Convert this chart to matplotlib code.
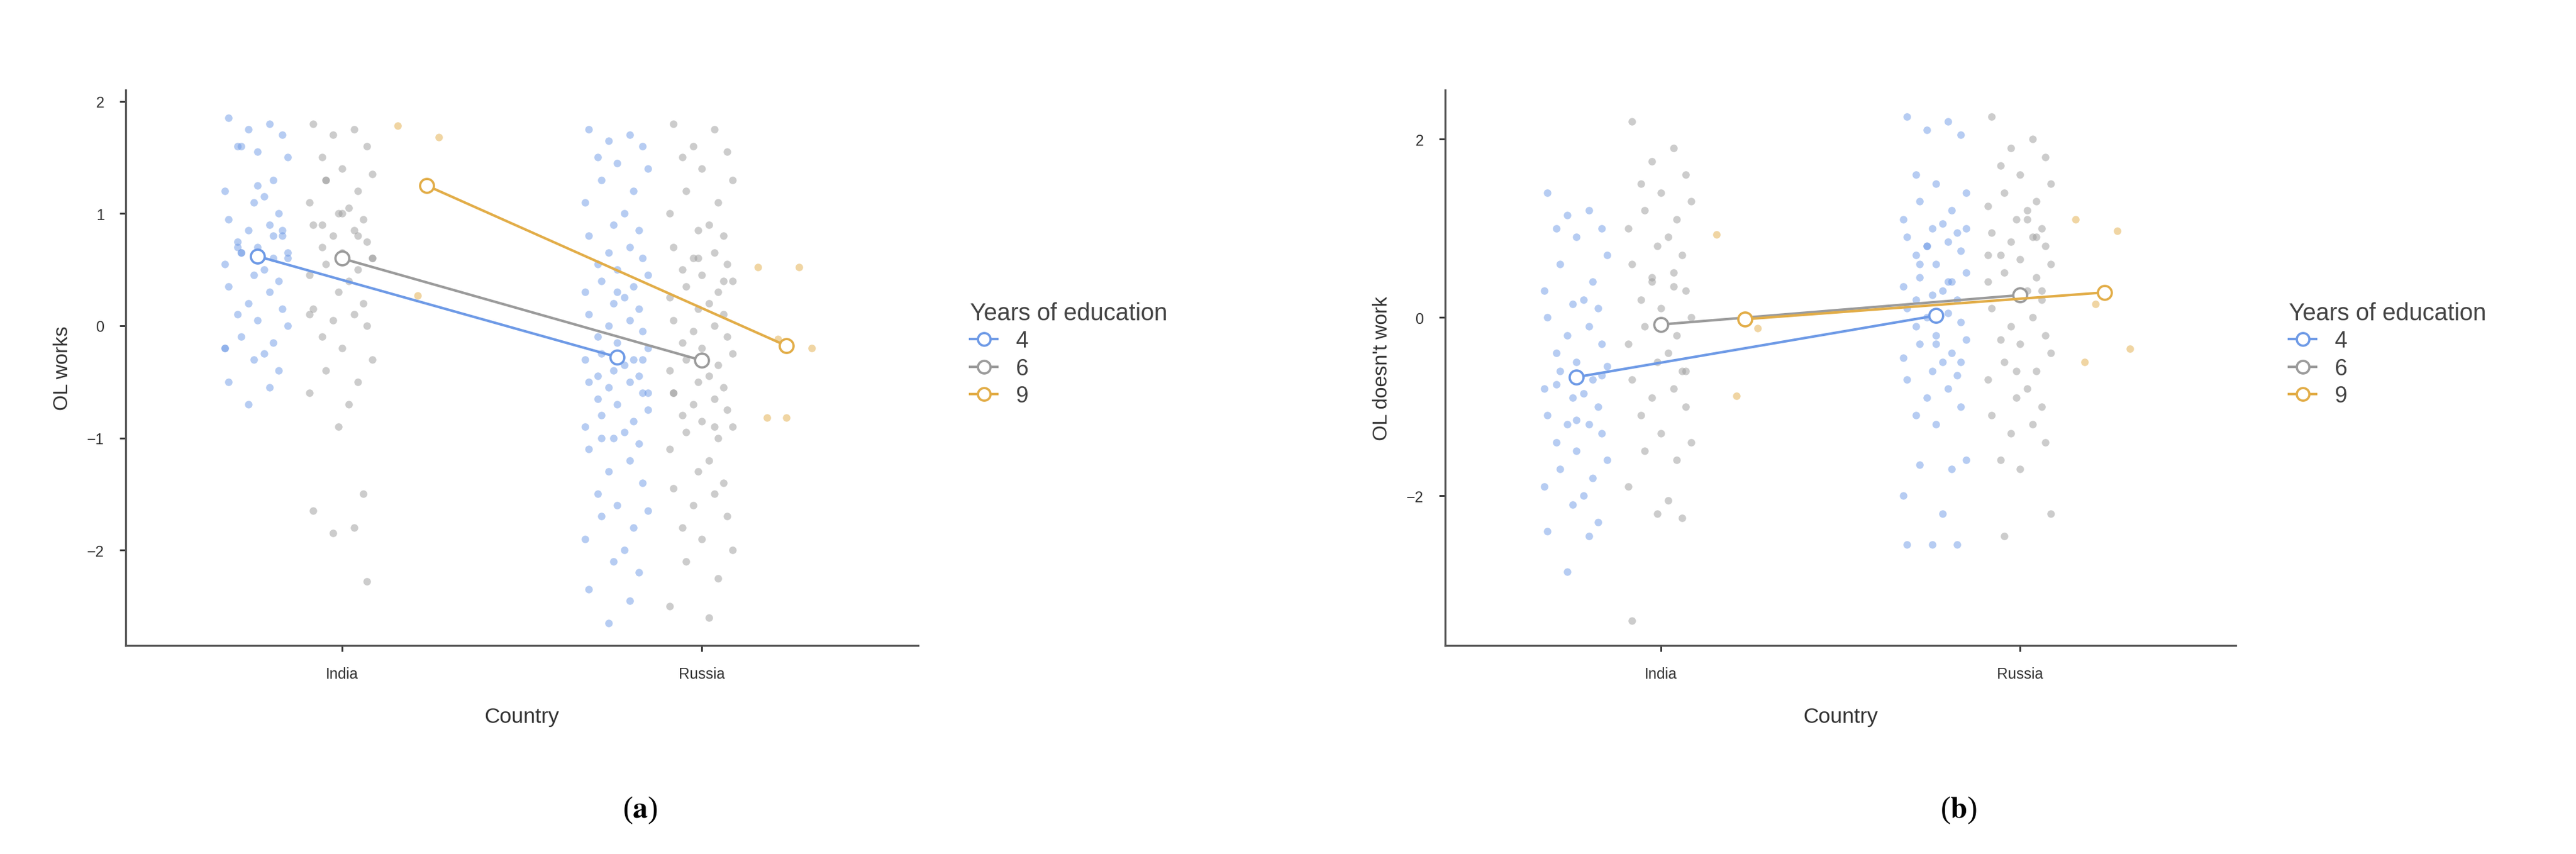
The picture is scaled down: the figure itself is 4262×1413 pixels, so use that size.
import numpy as np
import matplotlib
matplotlib.use("Agg")
import matplotlib.pyplot as plt
from matplotlib.lines import Line2D

plt.rcParams['font.family'] = ['Liberation Sans', 'DejaVu Sans']
plt.rcParams['mathtext.fontset'] = 'stix'

countries = ["India", "Russia"]
groups = ["4", "6", "9"]

# Panel (a): OL works
a_means = {"4": [0.62, -0.28], "6": [0.60, -0.31], "9": [1.25, -0.18]}
a_india_4 = [1.85,1.8,1.75,1.7,1.6,1.55,1.5,1.6,1.3,1.2,1.15,1.1,1.0,0.95,0.9,0.85,0.8,0.75,0.7,0.65,0.65,0.6,0.55,0.5,0.45,0.4,0.35,0.3,0.2,0.15,0.1,0.05,0.0,-0.1,-0.15,-0.2,-0.25,-0.3,-0.4,-0.5,-0.55,-0.7,0.85,0.7,1.25,0.6,0.65,0.8,-0.2]
a_india_6 = [1.8,1.75,1.7,1.6,1.5,1.4,1.35,1.3,1.2,1.1,1.05,1.0,0.95,0.9,0.85,0.8,0.75,0.7,0.65,0.6,0.55,0.5,0.45,0.4,0.3,0.2,0.15,0.1,0.05,0.0,-0.1,-0.2,-0.3,-0.4,-0.5,-0.6,-0.7,-0.9,-1.5,-1.65,-1.8,-1.85,-2.28,0.9,1.0,0.6,1.3,0.8,0.1]
a_india_9 = [1.78, 1.68, 0.27]
a_russia_4 = [1.75,1.7,1.65,1.6,1.5,1.45,1.4,1.3,1.2,1.1,1.0,0.9,0.85,0.8,0.7,0.65,0.6,0.55,0.5,0.45,0.4,0.35,0.3,0.25,0.2,0.15,0.1,0.05,0.0,-0.05,-0.1,-0.15,-0.2,-0.25,-0.3,-0.3,-0.35,-0.4,-0.45,-0.5,-0.5,-0.55,-0.6,-0.65,-0.7,-0.75,-0.8,-0.85,-0.9,-0.95,-1.0,-1.05,-1.1,-1.2,-1.3,-1.4,-1.5,-1.6,-1.65,-1.7,-1.8,-1.9,-2.0,-2.1,-2.2,-2.35,-2.45,-2.65,-0.3,-0.45,0.3,-0.6,-1.0]
a_russia_6 = [1.8,1.75,1.6,1.55,1.5,1.4,1.3,1.2,1.1,1.0,0.9,0.85,0.8,0.7,0.65,0.6,0.55,0.5,0.45,0.4,0.35,0.3,0.25,0.2,0.15,0.1,0.05,0.0,-0.05,-0.1,-0.15,-0.2,-0.25,-0.3,-0.35,-0.4,-0.45,-0.5,-0.55,-0.6,-0.65,-0.7,-0.75,-0.8,-0.85,-0.9,-0.95,-1.0,-1.1,-1.2,-1.3,-1.4,-1.45,-1.5,-1.6,-1.7,-1.8,-1.9,-2.0,-2.1,-2.25,-2.5,-2.6,0.6,0.4,-0.6,-0.9]
a_russia_9 = [0.52, 0.52, -0.12, -0.2, -0.82, -0.82]

# Panel (b): OL doesn't work
b_means = {"4": [-0.67, 0.02], "6": [-0.08, 0.25], "9": [-0.02, 0.28]}
b_india_4 = [1.4,1.2,1.15,1.0,1.0,0.9,0.7,0.6,0.4,0.3,0.2,0.15,0.1,0.0,-0.1,-0.2,-0.3,-0.4,-0.5,-0.55,-0.6,-0.7,-0.8,-0.85,-0.9,-1.0,-1.1,-1.2,-1.2,-1.3,-1.4,-1.5,-1.6,-1.7,-1.8,-1.9,-2.0,-2.1,-2.3,-2.4,-2.45,-2.85,-0.65,-0.75,-1.15]
b_india_6 = [2.2,1.9,1.75,1.6,1.5,1.4,1.3,1.2,1.1,1.0,0.9,0.8,0.7,0.6,0.5,0.4,0.3,0.2,0.1,0.0,-0.1,-0.2,-0.3,-0.4,-0.5,-0.6,-0.7,-0.8,-0.9,-1.0,-1.1,-1.3,-1.4,-1.5,-1.6,-1.9,-2.05,-2.2,-2.25,-3.4,0.35,0.45,-0.6]
b_india_9 = [0.93, -0.12, -0.88]
b_russia_4 = [2.25,2.2,2.1,2.05,1.6,1.5,1.4,1.3,1.2,1.1,1.05,1.0,0.95,0.9,0.85,0.8,0.75,0.7,0.6,0.5,0.45,0.4,0.35,0.3,0.25,0.2,0.1,0.05,0.0,-0.05,-0.1,-0.2,-0.25,-0.3,-0.4,-0.45,-0.5,-0.6,-0.65,-0.7,-0.8,-0.9,-1.0,-1.1,-1.2,-1.6,-1.65,-1.7,-2.0,-2.2,-2.55,-2.55,-2.55,0.4,0.8,-0.5,0.2,-0.3,1.0,0.6]
b_russia_6 = [2.25,2.0,1.9,1.8,1.7,1.6,1.5,1.4,1.3,1.25,1.2,1.1,1.0,0.95,0.9,0.85,0.8,0.7,0.65,0.6,0.5,0.45,0.4,0.3,0.25,0.2,0.1,0.0,-0.1,-0.2,-0.25,-0.3,-0.4,-0.5,-0.6,-0.7,-0.8,-0.9,-1.0,-1.1,-1.2,-1.3,-1.4,-1.6,-1.7,-2.2,-2.45,0.9,0.7,1.1,-0.6,0.3]
b_russia_9 = [1.1, 0.97, 0.15, -0.35, -0.5]

JITTER = [-0.08, 0.035, -0.025, 0.07, -0.055, 0.0, 0.085, -0.045, 0.045, -0.09, 0.02, -0.01, 0.06]

colors = {"4": "#6e9ae6", "6": "#9b9b9b", "9": "#e2ad48"}
dodge = {"4": -0.235, "6": 0.0, "9": 0.235}

W, H = 4262, 1414
fig = plt.figure(figsize=(W/300, H/300), dpi=300)

def draw(ax_rect, raw, means, ylabel, ylim, yticks, yticklabels):
    ax = fig.add_axes(ax_rect)
    for ci, c in enumerate(countries):
        for g in groups:
            ys = raw[(c, g)]
            xs = [ci + 1 + dodge[g] + JITTER[i % len(JITTER)] for i in range(len(ys))]
            ax.scatter(xs, ys, s=9, color=colors[g], alpha=0.5, linewidths=0, zorder=2)
    for g in groups:
        xs = [i + 1 + dodge[g] for i in range(2)]
        ax.plot(xs, means[g], color=colors[g], lw=1.0, zorder=3,
                marker='o', ms=5.5, mfc='white', mec=colors[g], mew=0.9)
    ax.set_xlim(0.4, 2.6)
    ax.set_ylim(*ylim)
    ax.set_xticks([1, 2])
    ax.set_xticklabels(countries)
    ax.set_yticks(yticks)
    ax.set_yticklabels(yticklabels)
    for s in ['top', 'right']:
        ax.spines[s].set_visible(False)
    for s in ['left', 'bottom']:
        ax.spines[s].set_color('#555555')
        ax.spines[s].set_linewidth(0.8)
    ax.tick_params(labelsize=6, colors='#333333', length=2.5, width=0.7, pad=6)
    ax.set_xlabel("Country", fontsize=8.5, color='#333333', labelpad=10)
    ax.set_ylabel(ylabel, fontsize=8, color='#333333', labelpad=6)
    return ax

raw_a = {("India","4"): a_india_4, ("India","6"): a_india_6, ("India","9"): a_india_9,
         ("Russia","4"): a_russia_4, ("Russia","6"): a_russia_6, ("Russia","9"): a_russia_9}
raw_b = {("India","4"): b_india_4, ("India","6"): b_india_6, ("India","9"): b_india_9,
         ("Russia","4"): b_russia_4, ("Russia","6"): b_russia_6, ("Russia","9"): b_russia_9}

draw([208/W, 1-1069/H, (1519-208)/W, (1069-150)/H], raw_a, a_means, "OL works",
     (-2.85, 2.1), [-2, -1, 0, 1, 2], ["\u22122", "\u22121", "0", "1", "2"])
draw([2391/W, 1-1069/H, (3699-2391)/W, (1069-150)/H], raw_b, b_means, "OL doesn't work",
     (-3.68, 2.55), [-2, 0, 2], ["\u22122", "0", "2"])

handles = [Line2D([0], [0], color=colors[g], lw=1.0, marker='o', ms=5, mfc='white',
                  mec=colors[g], mew=0.9) for g in groups]
for lx in [1590/W, 3772/W]:
    leg = fig.legend(handles, groups, title="Years of education", loc='upper left',
               bbox_to_anchor=(lx, 1-485/H), frameon=False, fontsize=9,
               title_fontsize=9.5, handlelength=1.2, labelcolor='#444444',
               alignment='left', borderaxespad=0, labelspacing=0.25)
    leg.get_title().set_color('#444444')

for x, lab in [(1059/W, 'a'), (3240/W, 'b')]:
    fig.text(x, 1-1341/H, '(' + r'$\mathbf{' + lab + '}$' + ')', ha='center', va='center',
             fontsize=12, family='Liberation Serif')

fig.savefig("out.png", dpi=300)
